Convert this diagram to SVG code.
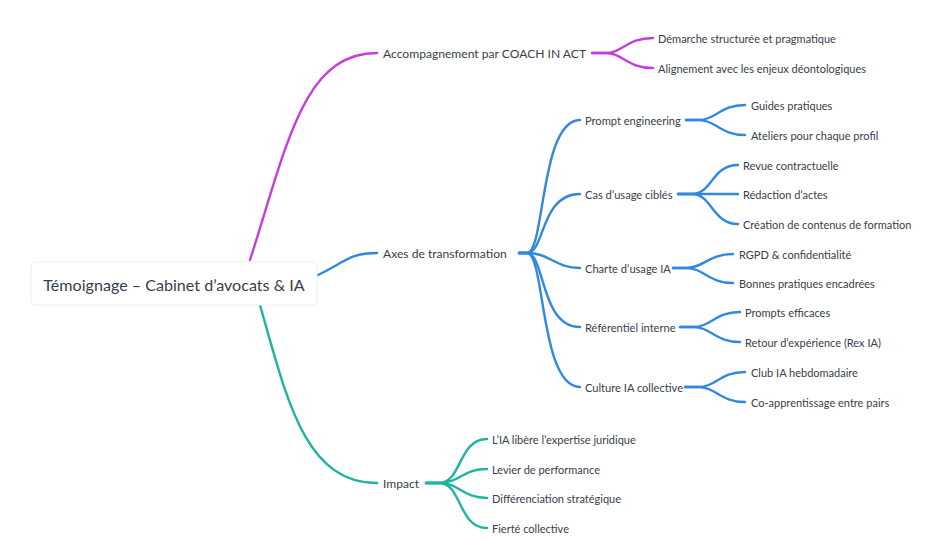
<svg xmlns="http://www.w3.org/2000/svg" width="949" height="540" viewBox="0 0 949 540">
<style>
text{font-family:Lato,"Noto Sans",sans-serif;fill:#36404c;dominant-baseline:central}
.root{font-size:16.1px}
.l1{font-size:12.1px}
.l2{font-size:11.1px}
.l3{font-size:11px}
.c{fill:none;stroke-width:2.4;stroke-linecap:round}
.p{stroke:#c23fd9}
.b{stroke:#3288e0}
.t{stroke:#1fb4a0}
</style>
<rect width="949" height="540" fill="#ffffff"/>
<g id="connectors">
<path class="c p" d="M250,260 C287,145 303,53 377,53"/>
<path class="c b" d="M318,275 C345,262 350,253 377,253"/>
<path class="c t" d="M260,305 C287,400 305,483 377,483"/>
<path class="c p" d="M592,53 H605 C623,53 627,38 653,38"/>
<path class="c p" d="M592,53 H605 C623,53 627,68 653,68"/>
<path class="c b" d="M519,253 H527 C545,253 540,120 580,120"/>
<path class="c b" d="M519,253 H527 C545,253 540,194 580,194"/>
<path class="c b" d="M519,253 H527 C550,253 555,268 580,268"/>
<path class="c b" d="M519,253 H527 C545,253 540,327 580,327"/>
<path class="c b" d="M519,253 H527 C545,253 540,387 580,387"/>
<path class="c b" d="M686,120 H698 C716,120 720,105 745,105"/>
<path class="c b" d="M686,120 H698 C716,120 720,135 745,135"/>
<path class="c b" d="M678,194 H692 C712,194 712,165 738,165"/>
<path class="c b" d="M678,194 H738"/>
<path class="c b" d="M678,194 H692 C712,194 712,224 738,224"/>
<path class="c b" d="M673,268 H686 C704,268 708,254 733,254"/>
<path class="c b" d="M673,268 H686 C704,268 708,283 733,283"/>
<path class="c b" d="M680,327 H693 C711,327 715,312 740,312"/>
<path class="c b" d="M680,327 H693 C711,327 715,342 740,342"/>
<path class="c b" d="M685,387 H698 C716,387 720,372 745,372"/>
<path class="c b" d="M685,387 H698 C716,387 720,402 745,402"/>
<path class="c t" d="M426,483 H439 C462,483 458,439 487,439"/>
<path class="c t" d="M426,483 H439 C460,483 462,469 487,469"/>
<path class="c t" d="M426,483 H439 C460,483 462,498 487,498"/>
<path class="c t" d="M426,483 H439 C462,483 458,528 487,528"/>
</g>
<g id="root">
<rect x="31" y="262" width="286" height="43" rx="5" fill="#ffffff" stroke="#eeeeee"/>
<text class="root" x="174" y="284" text-anchor="middle">Témoignage – Cabinet d’avocats &amp; IA</text>
</g>
<g id="n-accompagnement"><text class="l1" x="383" y="53">Accompagnement par COACH IN ACT</text></g>
<g id="n-demarche"><text class="l3" x="658" y="38">Démarche structurée et pragmatique</text></g>
<g id="n-alignement"><text class="l3" x="658" y="68">Alignement avec les enjeux déontologiques</text></g>
<g id="n-axes"><text class="l1" x="383" y="253">Axes de transformation</text></g>
<g id="n-prompt"><text class="l2" x="585" y="120">Prompt engineering</text></g>
<g id="n-guides"><text class="l3" x="751" y="105">Guides pratiques</text></g>
<g id="n-ateliers"><text class="l3" x="751" y="135">Ateliers pour chaque profil</text></g>
<g id="n-cas"><text class="l2" x="585" y="194">Cas d’usage ciblés</text></g>
<g id="n-revue"><text class="l3" x="743" y="165">Revue contractuelle</text></g>
<g id="n-redaction"><text class="l3" x="743" y="194">Rédaction d’actes</text></g>
<g id="n-creation"><text class="l3" x="743" y="224">Création de contenus de formation</text></g>
<g id="n-charte"><text class="l2" x="585" y="268">Charte d’usage IA</text></g>
<g id="n-rgpd"><text class="l3" x="739" y="254">RGPD &amp; confidentialité</text></g>
<g id="n-bonnes"><text class="l3" x="739" y="283">Bonnes pratiques encadrées</text></g>
<g id="n-referentiel"><text class="l2" x="585" y="327">Référentiel interne</text></g>
<g id="n-prompts"><text class="l3" x="745" y="312">Prompts efficaces</text></g>
<g id="n-retour"><text class="l3" x="745" y="342">Retour d’expérience (Rex IA)</text></g>
<g id="n-culture"><text class="l2" x="585" y="387">Culture IA collective</text></g>
<g id="n-club"><text class="l3" x="751" y="372">Club IA hebdomadaire</text></g>
<g id="n-coapp"><text class="l3" x="751" y="402">Co-apprentissage entre pairs</text></g>
<g id="n-impact"><text class="l1" x="383" y="483">Impact</text></g>
<g id="n-libere"><text class="l3" x="492" y="439">L’IA libère l’expertise juridique</text></g>
<g id="n-levier"><text class="l3" x="492" y="469">Levier de performance</text></g>
<g id="n-diff"><text class="l3" x="492" y="498">Différenciation stratégique</text></g>
<g id="n-fierte"><text class="l3" x="492" y="528">Fierté collective</text></g>
</svg>
